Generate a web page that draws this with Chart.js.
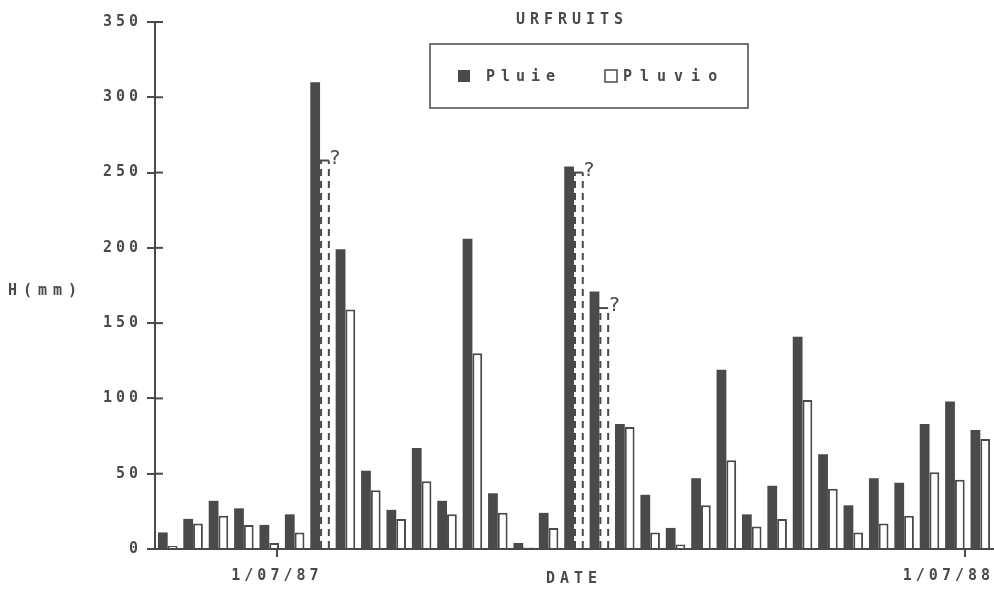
<!DOCTYPE html>
<html lang="fr">
<head>
    <meta charset="UTF-8">
    <meta name="viewport" content="width=device-width, initial-scale=1.0">
    <script src="https://cdn.jsdelivr.net/npm/chart.js"></script>
    <title>URFRUITS</title>
    <style>
        html, body { margin:0; padding:0; background:#fff; }
        #box { width:994px; height:590px; }
    </style>
</head>
<body>
    <div id="box">
        <canvas id="myChart" width="994" height="590"></canvas>
    </div>
    <script>
        // releves successifs (un groupe de barres par releve)
        const releves = ['1','2','3','4','5','6','7','8','9','10','11','12','13','14','15','16','17',
                         '18','19','20','21','22','23','24','25','26','27','28','29','30','31','32','33'];
        // hauteurs (mm)
        const pluie  = [11, 20, 32, 27, 16, 23, 310, 199, 52, 26, 67, 32, 206, 37, 4, 24, 254,
                        171, 83, 36, 14, 47, 119, 23, 42, 141, 63, 29, 47, 44, 83, 98, 79];
        const pluvio = [2, 17, 22, 16, 4, 11, 258, 159, 39, 20, 45, 23, 130, 24, 1, 14, 250,
                        160, 81, 11, 3, 29, 59, 15, 20, 99, 40, 11, 17, 22, 51, 46, 73];
        // releves pluvio douteux (barre en pointilles + "?")
        const douteux = [6, 16, 17];
        // reperes de date sur l'axe (en nombre de releves depuis le debut)
        const datePos    = [4.8, 31.9];
        const dateLabels = ['1/07/87', '1/07/88'];
        const yTicks = [0, 50, 100, 150, 200, 250, 300, 350];

        const ink = '#4a4a4a';
        const mono = "'DejaVu Sans Mono', monospace";

        const decor = {
            id: 'decor',
            beforeLayout(chart){ chart.ctx.letterSpacing = '4px'; },
            beforeDraw(chart){ chart.ctx.letterSpacing = '4px'; },
            afterDatasetsDraw(chart){
                const ctx = chart.ctx;
                const meta = chart.getDatasetMeta(1);
                ctx.save();
                ctx.letterSpacing = '0px';
                ctx.strokeStyle = ink;
                ctx.lineWidth = 2;
                douteux.forEach(i => {
                    const b = meta.data[i].getProps(['x','y','base','width'], true);
                    const l = b.x - b.width/2 + 1, r = b.x + b.width/2 - 1;
                    ctx.setLineDash([7,5]);
                    ctx.beginPath();
                    ctx.moveTo(l, b.base); ctx.lineTo(l, b.y);
                    ctx.moveTo(r, b.base); ctx.lineTo(r, b.y);
                    ctx.stroke();
                    ctx.setLineDash([]);
                    ctx.beginPath();
                    ctx.moveTo(l - 4, b.y); ctx.lineTo(r, b.y);
                    ctx.stroke();
                    ctx.fillStyle = ink;
                    ctx.font = '20px "DejaVu Sans"';
                    ctx.textAlign = 'left';
                    ctx.textBaseline = 'bottom';
                    ctx.fillText('?', r + 1, b.y + 8);
                });
                ctx.restore();
            },
            afterDraw(chart){
                const ctx = chart.ctx;
                const ca = chart.chartArea;
                const ys = chart.scales.y;
                const xd = chart.scales.xd;
                ctx.save();
                ctx.strokeStyle = ink;
                ctx.fillStyle = ink;
                ctx.lineWidth = 2;
                // petits traits de graduation a l'interieur
                yTicks.forEach(v => {
                    const py = ys.getPixelForValue(v);
                    ctx.beginPath();
                    ctx.moveTo(ca.left, py); ctx.lineTo(ca.left + 8, py);
                    ctx.stroke();
                });
                ctx.font = 'bold 15px ' + mono;
                ctx.textBaseline = 'middle';

                // etiquettes de date, ramenees dans le cadre si besoin
                ctx.letterSpacing = '4px';
                ctx.textAlign = 'left';
                datePos.forEach((v, i) => {
                    const w = ctx.measureText(dateLabels[i]).width;
                    let x0 = xd.getPixelForValue(v) - w / 2;
                    x0 = Math.min(x0, chart.width - w);
                    ctx.fillText(dateLabels[i], x0, ca.bottom + 27);
                });

                ctx.letterSpacing = '5px';
                ctx.textAlign = 'center';
                const cx = (ca.left + ca.right) / 2;
                ctx.fillText('URFRUITS', cx - 2, ca.top - 2);
                ctx.fillText('DATE', cx, ca.bottom + 30);
                ctx.textAlign = 'left';
                ctx.letterSpacing = '6px';
                ctx.fillText('H(mm)', 8, (ca.top + ca.bottom) / 2 + 6);

                // legende encadree
                const lx = ca.left + 275, ly = ca.top + 22, lw = 318, lh = 64;
                ctx.lineWidth = 1.5;
                ctx.strokeRect(lx, ly, lw, lh);
                const my = ly + lh / 2;
                ctx.fillRect(lx + 28, my - 6, 12, 12);
                ctx.letterSpacing = '6px';
                ctx.fillText('Pluie', lx + 56, my + 1);
                ctx.fillStyle = '#fff';
                ctx.fillRect(lx + 175, my - 6, 12, 12);
                ctx.strokeRect(lx + 175, my - 6, 12, 12);
                ctx.fillStyle = ink;
                ctx.letterSpacing = '8px';
                ctx.fillText('Pluvio', lx + 193, my + 1);
                ctx.restore();
            }
        };

        const ctx = document.getElementById('myChart');
        new Chart(ctx, {
            type: 'bar',
            data: {
                labels: releves,
                datasets: [{
                    label: 'Pluie',
                    data: pluie,
                    backgroundColor: ink,
                    borderWidth: 0
                }, {
                    label: 'Pluvio',
                    data: pluvio,
                    backgroundColor: '#ffffff',
                    borderColor: c => douteux.includes(c.dataIndex) ? 'rgba(0,0,0,0)' : ink,
                    borderWidth: 2
                }]
            },
            options: {
                responsive: false,
                animation: false,
                layout: { padding: { left: 0, right: 1, top: 22, bottom: 0 } },
                datasets: { bar: { categoryPercentage: 0.77, barPercentage: 1.0 } },
                plugins: { legend: { display: false }, title: { display: false }, tooltip: { enabled: false } },
                scales: {
                    x: { display: false },
                    xd: {
                        type: 'linear', position: 'bottom',
                        min: 0, max: releves.length,
                        offset: false,
                        afterBuildTicks: s => { s.ticks = datePos.map(v => ({ value: v })); },
                        afterFit: s => { s.height = 41; s.paddingLeft = 0; s.paddingRight = 0; },
                        ticks: { display: false },
                        grid: { offset: false, drawOnChartArea: false, tickLength: 8, color: ink, lineWidth: 2 },
                        border: { color: ink, width: 2 }
                    },
                    y: {
                        min: 0, max: 350,
                        afterBuildTicks: s => { s.ticks = yTicks.map(v => ({ value: v })); },
                        afterFit: s => { s.width = 155; s.paddingTop = 0; s.paddingBottom = 0; },
                        ticks: {
                            padding: 5, color: ink,
                            font: { family: mono, size: 15, weight: 'bold' }
                        },
                        grid: { drawOnChartArea: false, tickLength: 8, color: ink, lineWidth: 2 },
                        border: { color: ink, width: 2 }
                    }
                }
            },
            plugins: [decor]
        });
    </script>
</body>
</html>
